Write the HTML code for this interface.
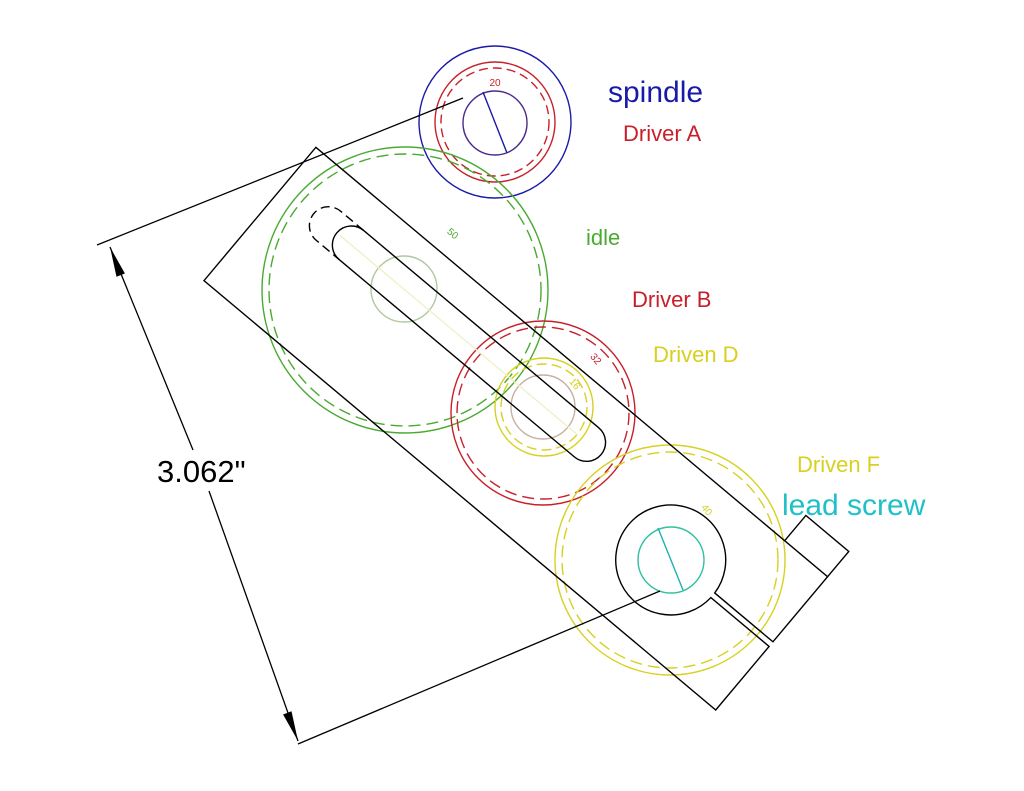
<!DOCTYPE html>
<html><head><meta charset="utf-8"><style>
html,body{margin:0;padding:0;background:#fff;width:1024px;height:791px;overflow:hidden}
svg{display:block}
text{font-family:"Liberation Sans",sans-serif}
</style></head><body>
<svg width="1024" height="791" viewBox="0 0 1024 791" xmlns="http://www.w3.org/2000/svg">
<g fill="none" stroke-width="1.4">
<!-- spindle -->
<circle cx="495" cy="122" r="76" stroke="#1a1aa8"/>
<circle cx="495" cy="122" r="60" stroke="#c8202a"/>
<circle cx="495" cy="122" r="54" stroke="#c8202a" stroke-dasharray="9 5"/>
<circle cx="495" cy="123" r="32" stroke="#4a2a8a"/>
<line x1="483" y1="92" x2="507" y2="153" stroke="#1a1aa8"/>
<!-- idle -->
<circle cx="405" cy="290" r="143" stroke="#4aaa30"/>
<circle cx="405" cy="290" r="136" stroke="#4aaa30" stroke-dasharray="12 6"/>
<circle cx="404" cy="289" r="33" stroke="#b0c8a0"/>
<!-- driver B -->
<circle cx="543" cy="413" r="92" stroke="#c8202a"/>
<circle cx="543" cy="413" r="86" stroke="#c8202a" stroke-dasharray="12 6"/>
<!-- driven D -->
<circle cx="544" cy="407" r="49" stroke="#d8d020"/>
<circle cx="544" cy="407" r="43" stroke="#d8d020" stroke-dasharray="10 5"/>
<circle cx="543" cy="407" r="32" stroke="#c8b0a0"/>
<!-- driven F -->
<circle cx="670" cy="560" r="115" stroke="#d8d020"/>
<circle cx="670" cy="560" r="108" stroke="#d8d020" stroke-dasharray="12 6"/>
<circle cx="671" cy="560" r="33" stroke="#30c0a0"/>
<line x1="658" y1="528" x2="683" y2="590" stroke="#20b0b0"/>
<!-- plate -->
<g transform="translate(405,290) rotate(40)" stroke="#000" stroke-width="1.4">
<line x1="-85" y1="0" x2="225" y2="0" stroke="#f0f0c8"/>
<path d="M-160,-52 L508,-52 L508,33 L432,33 A55,55 0 1 0 432,39 L508,39 L508,122 L-160,122 Z"/>
<path d="M452,-52 L452,-85 L508,-85 L508,-52"/>
<path d="M-70,-19 L237,-19 A19,19 0 0 1 237,19 L-70,19 A19,19 0 0 1 -70,-19 Z"/>
<path d="M-70,-19 L-100,-19 A19,19 0 0 0 -100,19 L-70,19" stroke-dasharray="9 5"/>
</g>
<!-- dimension -->
<g stroke="#000" stroke-width="1.3">
<line x1="97" y1="245" x2="463" y2="98"/>
<line x1="298" y1="744" x2="660" y2="591"/>
<line x1="110" y1="247" x2="193" y2="450"/>
<line x1="209" y1="491" x2="298" y2="741"/>
</g>
<polygon points="110,247 124.9,273.5 116.5,276.7" fill="#000"/>
<polygon points="298,741 291.5,711.3 283.1,714.5" fill="#000"/>
</g>
<text x="157" y="482" font-size="31" fill="#000">3.062"</text>
<text x="495" y="86" font-size="10" fill="#c8202a" text-anchor="middle">20</text>
<text x="448" y="236" font-size="10" fill="#4aaa30" transform="rotate(40 452 232)">50</text>
<text x="591" y="362" font-size="10" fill="#c8202a" transform="rotate(50 596 358)">32</text>
<text x="570" y="387" font-size="10" fill="#d8d020" transform="rotate(50 575 383)">16</text>
<text x="702" y="513" font-size="10" fill="#d8d020" transform="rotate(50 707 509)">40</text>
<text x="608" y="102" font-size="30" fill="#1a1aa8">spindle</text>
<text x="623" y="141" font-size="22" fill="#c8202a">Driver A</text>
<text x="586" y="245" font-size="22" fill="#4aaa30">idle</text>
<text x="632" y="307" font-size="22" fill="#c8202a">Driver B</text>
<text x="653" y="362" font-size="22" fill="#d8d020">Driven D</text>
<text x="797" y="472" font-size="22" fill="#d8d020">Driven F</text>
<text x="782" y="515" font-size="30" fill="#20c0c8">lead screw</text>
</svg>
</body></html>
